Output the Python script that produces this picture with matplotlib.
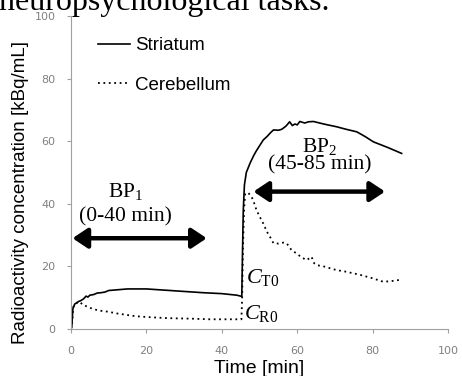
import matplotlib
matplotlib.use("Agg")
import matplotlib.pyplot as plt

# time [min] and radioactivity [kBq/mL]
striatum_t = [0, 0.2, 0.5, 1.0, 1.5, 2.0, 2.5, 3.3, 4, 4.5, 5, 6, 7, 8, 9, 10, 12, 15,
              20, 25, 30, 35, 40, 44, 45.3, 45.5, 45.7, 46, 46.5, 47.5, 48.5, 49.2, 50,
              51, 52, 53, 53.7, 55, 55.9, 57, 58, 58.7, 59.4, 60, 60.7, 62, 63, 64.3,
              67, 70.5, 73, 75.8, 78, 80.2, 84, 87.7]
striatum_v = [0, 0.5, 6.5, 8.0, 8.3, 8.8, 9.0, 9.6, 10.5, 10.2, 10.8, 11.0, 11.5, 11.6,
              11.8, 12.3, 12.5, 12.8, 12.8, 12.4, 12.0, 11.6, 11.3, 10.8, 10.4, 25, 38,
              46, 50, 53, 55.5, 57, 58.5, 60.4, 61.5, 62.8, 63.6, 63.5, 63.8, 64.8, 66.2,
              65, 65.5, 65.2, 66.3, 65.8, 66.2, 66.3, 65.5, 64.6, 63.8, 63, 61.5, 59.8,
              58, 56.1]

cerebellum_t = [0, 0.3, 0.6, 1.2, 1.9, 2.4, 3, 3.5, 4, 5, 6, 8, 10, 12, 14.8, 17, 19.2,
                22, 25, 28, 32, 36.9, 41, 45.2, 45.4, 45.6, 45.9, 46.2, 47, 47.9, 48.5,
                49.2, 50, 51, 52, 53, 53.7, 55, 56.3, 57.2, 58.5, 60, 61, 62.5, 63.8,
                64.5, 65.2, 67, 70.5, 73, 76.7, 80, 82.8, 85, 87.3]
cerebellum_v = [0, 2, 7.0, 8.2, 8.6, 8.7, 7.8, 7.6, 7.3, 6.8, 6.3, 5.8, 5.5, 5.0, 4.5,
                4.1, 3.9, 3.7, 3.5, 3.4, 3.3, 3.1, 3.1, 3.1, 10, 25, 38, 43.3, 43.5, 42.3,
                40.5, 38, 36, 33.7, 31, 29, 27.4, 27.3, 27.6, 27.4, 25.2, 24, 23, 22,
                23.1, 21.0, 20.4, 20, 18.8, 18.3, 17.3, 16.2, 15.1, 15.3, 15.7]

bp1_span = [0.4, 36.0]
bp1_level = 29
bp2_span = [48.4, 83.3]
bp2_level = 43.9

ticks = [0, 20, 40, 60, 80, 100]

plt.rcParams['mathtext.fontset'] = 'custom'
plt.rcParams['mathtext.rm'] = 'Liberation Serif'
plt.rcParams['mathtext.it'] = 'Liberation Serif:italic'

fig = plt.figure(figsize=(4.62, 3.76), dpi=100)
ax = fig.add_axes([71 / 462, 47 / 376, 377 / 462, 313 / 376])

ax.plot(striatum_t, striatum_v, color='black', lw=1.2, label='Striatum')
ax.plot(cerebellum_t, cerebellum_v, color='black', lw=1.3, ls=(0, (1, 2)), label='Cerebellum')

ax.set_xlim(0, 100)
ax.set_ylim(0, 100)
ax.set_xticks(ticks)
ax.set_yticks(ticks)
for s in ['top', 'right']:
    ax.spines[s].set_visible(False)
for s in ['left', 'bottom']:
    ax.spines[s].set_color('#a0a0a0')
ax.tick_params(direction='out', length=3, color='#a0a0a0', labelcolor='#808080',
               labelsize=8)
ax.tick_params(axis='x', pad=9)
ax.tick_params(axis='y', pad=8)

leg = ax.legend(loc='upper left', bbox_to_anchor=(0.028, 0.987), frameon=False,
                handlelength=1.7, handletextpad=0.25, labelspacing=1.2,
                prop={'family': 'Liberation Sans', 'size': 13.5})

# double-headed arrows for the two BP windows
arrow = dict(arrowstyle='<|-|>,head_length=0.45,head_width=0.3', lw=3.2,
             color='black', shrinkA=0, shrinkB=0, mutation_scale=20)
ax.annotate('', xy=(bp1_span[1], bp1_level), xytext=(bp1_span[0], bp1_level),
            arrowprops=arrow)
ax.annotate('', xy=(bp2_span[1], bp2_level), xytext=(bp2_span[0], bp2_level),
            arrowprops=arrow)

serif = {'family': 'Liberation Serif', 'size': 15.5}
ax.text(14.5, 43.9, r'BP$_1$', ha='center', va='center', **serif)
ax.text(14.5, 35.9, '(0-40 min)', ha='center', va='center', **serif)
ax.text(66, 58.3, r'BP$_2$', ha='center', va='center', **serif)
ax.text(66, 52.4, '(45-85 min)', ha='center', va='center', **serif)
ax.text(46.4, 16.5, r'$C_{\mathrm{T0}}$', ha='left', va='center',
        family='Liberation Serif', size=16)
ax.text(46.0, 4.8, r'$C_{\mathrm{R0}}$', ha='left', va='center',
        family='Liberation Serif', size=16)

ax.set_xlabel('Time [min]', family='Liberation Sans', size=14, labelpad=3)
fig.text(21 / 462, 1 - 193 / 376, 'Radioactivity concentration [kBq/mL]',
         rotation=90, ha='center', va='center', family='Liberation Sans', size=13.5)

fig.text(-0.002, 1 - 10 / 376, 'neuropsychological tasks.', ha='left',
         va='baseline', family='Liberation Serif', size=23)

fig.savefig('out.png', dpi=100)
